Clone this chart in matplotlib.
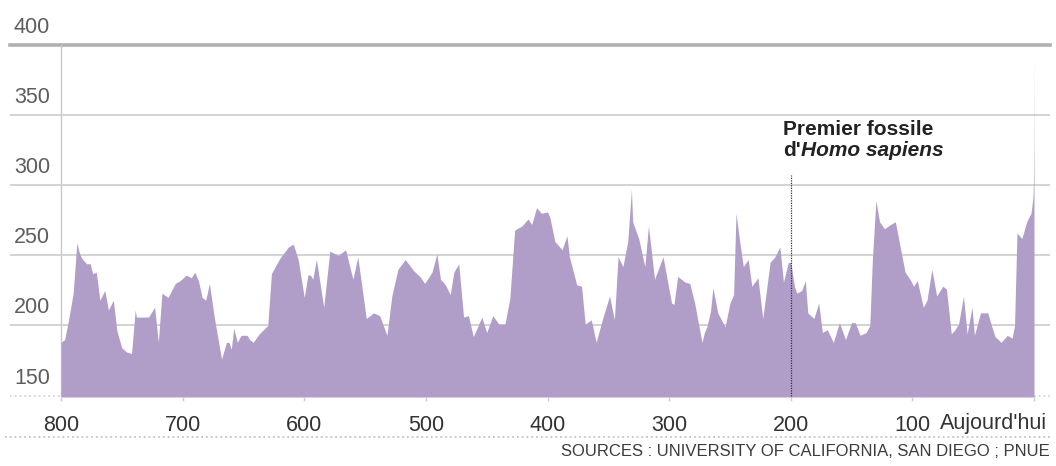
import matplotlib
matplotlib.use('Agg')
import matplotlib.pyplot as plt
from matplotlib.lines import Line2D

# --- Data: CO2 (ppm) vs. age (thousands of years before today) ---
AGES_KA = [800, 797, 794, 790, 787, 785, 783, 779, 776, 774, 771, 768, 764, 761, 757, 754,
           750, 746, 742, 739, 738, 733, 728, 723, 720, 717, 712, 706, 702, 697, 693, 690,
           687, 684, 681, 678, 674, 668, 664, 662, 660, 658, 655, 652, 647, 645, 642, 637,
           630, 627, 620, 613, 609, 605, 600, 597, 595, 593, 590, 584, 579, 572, 566, 560,
           556, 549, 543, 538, 532, 528, 523, 517, 510, 505, 501, 495, 491, 488, 484, 480,
           477, 473, 469, 465, 461, 457, 454, 450, 445, 440, 435, 431, 427, 421, 416, 413,
           409, 405, 400, 398, 394, 388, 384, 382, 376, 372, 369, 364, 360, 355, 349, 345,
           342, 338, 334, 331, 330, 325, 320, 317, 312, 305, 301, 298, 296, 293, 287, 283,
           279, 273, 271, 269, 266, 264, 260, 254, 250, 247, 245, 242, 239, 235, 232, 227,
           223, 217, 213, 209, 206, 202, 200, 197, 195, 191, 188, 186, 181, 177, 174, 170,
           165, 160, 155, 150, 147, 143, 138, 135, 133, 130, 127, 123, 118, 114, 110, 106,
           102, 99, 96, 91, 88, 84, 80, 75, 72, 68, 65, 62, 58, 55, 51, 49,
           44, 38, 35, 32, 27, 22, 18, 16, 14, 10, 6, 2.5, 1, 0.5, 0.2, 0]
CO2_PPM = [188, 190, 203, 223, 259, 252, 248, 244, 244, 237, 238, 218, 225, 211, 218, 196,
           184, 181, 180, 211, 206, 206, 206, 213, 188, 223, 220, 230, 232, 236, 234, 238,
           232, 220, 218, 230, 206, 176, 188, 188, 183, 198, 188, 193, 193, 190, 188, 194,
           200, 237, 248, 256, 258, 247, 220, 236, 236, 233, 247, 213, 253, 250, 254, 233,
           249, 205, 209, 207, 193, 221, 240, 247, 239, 235, 230, 238, 251, 233, 229, 222,
           238, 244, 206, 207, 192, 200, 206, 195, 207, 201, 201, 219, 268, 271, 276, 272,
           284, 280, 281, 277, 260, 254, 264, 249, 229, 228, 201, 204, 188, 204, 221, 204,
           249, 242, 260, 297, 274, 262, 242, 271, 233, 249, 230, 216, 215, 235, 231, 230,
           216, 188, 195, 199, 210, 227, 209, 199, 216, 222, 280, 260, 242, 247, 228, 234,
           205, 245, 249, 256, 231, 245, 245, 228, 223, 225, 232, 209, 205, 216, 195, 197,
           188, 202, 190, 202, 202, 193, 195, 200, 245, 289, 274, 269, 272, 274, 256, 238,
           233, 228, 232, 213, 218, 240, 221, 228, 226, 194, 197, 201, 221, 194, 213, 193,
           209, 209, 200, 192, 188, 193, 191, 200, 266, 262, 274, 280, 290, 300, 330, 395]

Y_TICKS = [150, 200, 250, 300, 350, 400]
X_TICKS = [800, 700, 600, 500, 400, 300, 200, 100, 0]
X_TICK_LABELS = ['800', '700', '600', '500', '400', '300', '200', '100', '']
TODAY_LABEL = "Aujourd'hui"
FOSSIL_AGE = 200
FOSSIL_LINE_TOP = 307
SOURCE_TEXT = 'SOURCES : UNIVERSITY OF CALIFORNIA, SAN DIEGO ; PNUE'

# --- Style ---
AREA_COLOR = '#b09ec9'
GRID_COLOR = '#c8c8c8'
TOP_LINE_COLOR = '#b0b0b0'
YLABEL_COLOR = '#5e5e5e'
XLABEL_COLOR = '#333333'
NUM_FONT = ['Liberation Sans', 'DejaVu Sans']

W, H = 1056, 466
plt.rcParams['font.family'] = NUM_FONT

fig = plt.figure(figsize=(W / 100, H / 100), dpi=100)
# axes span the full gridline width; 800 ka sits at x=61 px, today at x=1034 px
px_per_ka = (1034 - 61) / 800
ax = fig.add_axes([10 / W, (H - 397) / H, 1040 / W, 352 / H])
ax.set_xlim(800 + (61 - 10) / px_per_ka, -(1050 - 1034) / px_per_ka)
ax.set_ylim(149, 400)
for s in ax.spines.values():
    s.set_visible(False)

# --- Gridlines ---
for v in Y_TICKS[1:-1]:
    ax.axhline(v, color=GRID_COLOR, lw=1.1, zorder=0)
ax.axhline(400, color=TOP_LINE_COLOR, lw=2.6, zorder=0, clip_on=False)
ax.axhline(150, color='#d8d0e4', lw=1.3, ls=':', zorder=0)
ax.plot([800, 800], [150, 400], color=GRID_COLOR, lw=1.0, zorder=1)

# --- Area ---
ax.fill_between(AGES_KA, 149, CO2_PPM, color=AREA_COLOR, lw=0, zorder=2)

# --- Y labels (sitting above their gridline) ---
ax.set_yticks([])
for v in Y_TICKS:
    ax.annotate(str(v), xy=(14, v), xycoords=('figure pixels', 'data'),
                xytext=(0, 7), textcoords='offset pixels',
                ha='left', va='bottom', fontsize=15.5, color=YLABEL_COLOR)

# --- X ticks ---
ax.set_xticks(X_TICKS)
ax.set_xticklabels(X_TICK_LABELS)
ax.tick_params(axis='x', length=3, width=1, color='#d0c8de', pad=10,
               labelsize=15.5, labelcolor=XLABEL_COLOR)
ax.annotate(TODAY_LABEL, xy=(0, 0), xycoords=('data', 'axes fraction'),
            xytext=(13, -16), textcoords='offset pixels',
            ha='right', va='top', fontsize=15.5, color=XLABEL_COLOR)

# --- Homo sapiens annotation ---
ax.plot([FOSSIL_AGE, FOSSIL_AGE], [150, FOSSIL_LINE_TOP], color='#333333',
        lw=0.9, ls=(0, (1, 1)), zorder=3)
ax.annotate('Premier fossile', xy=(783, 466 - 120), xycoords='figure pixels',
            ha='left', va='top', fontsize=15, fontweight='bold', color='#222222')
t2 = ax.annotate("d'", xy=(783, 466 - 141), xycoords='figure pixels',
                 ha='left', va='top', fontsize=15, fontweight='bold', color='#222222')
ax.annotate('Homo sapiens', xy=(1, 0), xycoords=t2, ha='left', va='bottom',
            fontsize=15, fontweight='bold', fontstyle='italic', color='#222222')

# --- Footer ---
fig.add_artist(Line2D([5 / W, 1050 / W], [1 - 437 / H, 1 - 437 / H],
                      color='#c4c4c4', lw=1.3, ls=':'))
fig.text(1050 / W, 1 - 452 / H, SOURCE_TEXT, ha='right', va='center',
         fontsize=12, color='#3c3c3c')

fig.savefig('out.png', dpi=100, facecolor='white')
